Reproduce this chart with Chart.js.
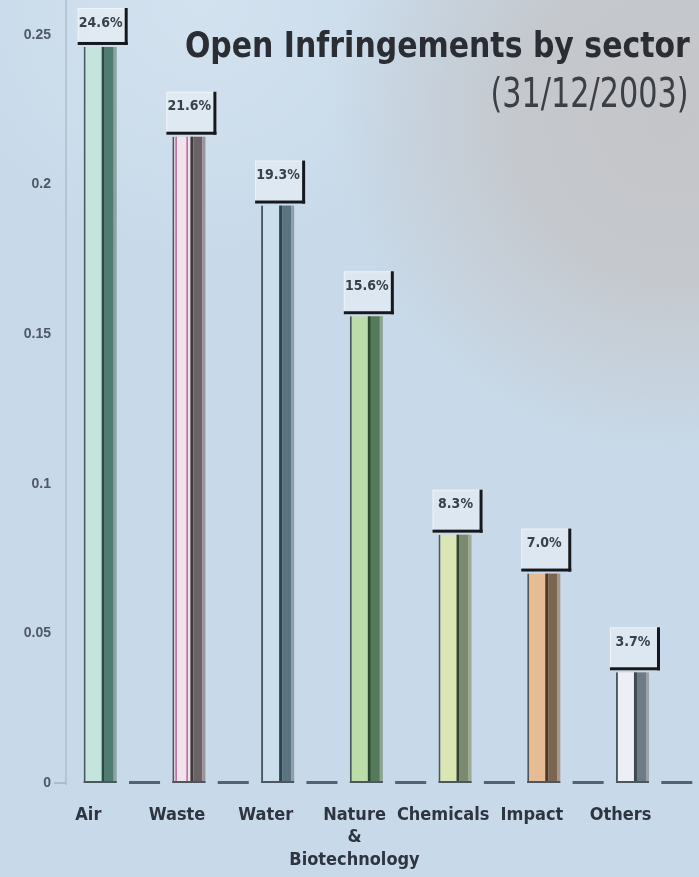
<!DOCTYPE html>
<html>
<head>
<meta charset="utf-8">
<script src="https://cdn.jsdelivr.net/npm/chart.js@4"></script>
<style>
  html, body { margin: 0; padding: 0; background: #c8daea; }
  #wrap { position: relative; width: 699px; height: 877px; overflow: hidden; }
  canvas { display: block; }
  .ttl { position: absolute; white-space: nowrap; font-family: "DejaVu Sans Condensed", "Liberation Sans Narrow", sans-serif; transform-origin: right center; }
  #title { right: 9px; top: 28px; font-size: 35px; font-weight: 700; line-height: 35px; color: #2a2e34; }
  #subtitle { right: 11px; top: 73px; font-size: 40px; font-weight: 400; line-height: 40px; color: #3b3f46; }
</style>
</head>
<body>
<div id="wrap">
  <canvas id="c" width="699" height="877"></canvas>
  <div class="ttl" id="title">Open Infringements by sector</div>
  <div class="ttl" id="subtitle">(31/12/2003)</div>
</div>
<script>
// ---- data ----
const categories = ['Air', 'Waste', 'Water', ['Nature', '&', 'Biotechnology'], 'Chemicals', 'Impact', 'Others'];
const shares = [0.246, 0.216, 0.193, 0.156, 0.083, 0.070, 0.037];
const spacers = [0, 0, 0, 0, 0, 0, 0];
const shareLabels = ['24.6%', '21.6%', '19.3%', '15.6%', '8.3%', '7.0%', '3.7%'];
const yTickValues = [0, 0.05, 0.1, 0.15, 0.2, 0.25];
const yTickLabels = ['0', '0.05', '0.1', '0.15', '0.2', '0.25'];

// ---- styles ----
const lightColors  = ['#c6e4de', '#efe4ec', '#cadeec', '#bcdcaa', '#dae6b4', '#e6bc94', '#eeeff6'];
const stripeColors = ['#2a4a42', '#3e3a3c', '#2e4450', '#2c4832', '#34442e', '#4a3a2c', '#3e4850'];
const darkColors   = ['#4f7c70', '#6a6264', '#5c7482', '#557a5a', '#7a8a70', '#7a6452', '#6e7a86'];
const edgeColors   = ['#8aa4a0', '#9a9298', '#8e9ea8', '#8ea492', '#a0a898', '#a69684', '#9aa2aa'];
const accentColors = [null, '#c2609a', null, null, null, null, null];

const NARROW = '"DejaVu Sans Condensed", "Liberation Sans Narrow", sans-serif';

function fitWidth(id, target) {
  const el = document.getElementById(id);
  el.style.transform = 'none';
  const w = el.getBoundingClientRect().width;
  if (w > 0) el.style.transform = 'scaleX(' + (target / w) + ')';
}
fitWidth('title', 505);
fitWidth('subtitle', 198);
if (document.fonts && document.fonts.ready) {
  document.fonts.ready.then(() => { fitWidth('title', 505); fitWidth('subtitle', 198); });
}

const bgPlugin = {
  id: 'bg',
  beforeDraw(chart) {
    const { ctx, width, height } = chart;
    ctx.save();
    ctx.fillStyle = '#c8daea';
    ctx.fillRect(0, 0, width, height);
    const w = ctx.createRadialGradient(200, 0, 0, 200, 0, 260);
    w.addColorStop(0, 'rgba(214,228,240,0.8)');
    w.addColorStop(1, 'rgba(214,228,240,0)');
    ctx.fillStyle = w;
    ctx.fillRect(0, 0, width, height);
    const g = ctx.createRadialGradient(670, 120, 0, 670, 120, 340);
    g.addColorStop(0, 'rgba(196,197,200,1)');
    g.addColorStop(0.45, 'rgba(196,197,200,0.85)');
    g.addColorStop(1, 'rgba(196,197,200,0)');
    ctx.fillStyle = g;
    ctx.fillRect(0, 0, width, height);
    // faint y axis line
    const ys = chart.scales.y;
    ctx.fillStyle = 'rgba(150,170,190,0.45)';
    ctx.fillRect(ys.right - 13, 0, 2, ys.bottom + 2);
    ctx.fillStyle = 'rgba(150,170,190,0.6)';
    ctx.fillRect(ys.right - 24, ys.bottom - 1, 12, 2);
    ctx.restore();
  }
};

const barPlugin = {
  id: 'bars',
  afterDatasetsDraw(chart) {
    const ctx = chart.ctx;
    ctx.save();
    const meta0 = chart.getDatasetMeta(0);
    meta0.data.forEach((el, i) => {
      const { x, y, base, width } = el.getProps(['x', 'y', 'base', 'width'], true);
      const L = x - width / 2, h = base - y, f = width / 33;
      ctx.fillStyle = stripeColors[i]; ctx.fillRect(L + 18 * f, y, 3 * f, h);
      ctx.fillStyle = darkColors[i];   ctx.fillRect(L + 21 * f, y, 9 * f, h);
      ctx.fillStyle = edgeColors[i];   ctx.fillRect(L + 30 * f, y, 3 * f, h);
      if (accentColors[i]) {
        ctx.fillStyle = accentColors[i];
        ctx.fillRect(L + 3 * f, y, 1.5 * f, h - 2);
        ctx.fillRect(L + 14 * f, y, 1.5 * f, h - 2);
      }
      ctx.fillStyle = '#4a5660';
      ctx.fillRect(L, base - 2, width, 2);
    });

    const meta1 = chart.getDatasetMeta(1);
    meta1.data.forEach(el => {
      const { x, base, width } = el.getProps(['x', 'base', 'width'], true);
      ctx.fillStyle = '#56636e';
      ctx.fillRect(x - width / 2 + 1, base - 2, width - 2, 3);
    });

    // value label boxes
    meta0.data.forEach((el, i) => {
      const { x, y, width } = el.getProps(['x', 'y', 'width'], true);
      const left = x - width / 2 - 6;
      const right = x + width / 2 + 11;
      const bottom = y - 2;
      const top = Math.max(bottom - 43, 8);
      ctx.fillStyle = 'rgba(236,242,248,0.55)';
      ctx.fillRect(left, top, right - left, bottom - top);
      ctx.strokeStyle = 'rgba(255,255,255,0.5)';
      ctx.lineWidth = 1;
      ctx.strokeRect(left + 0.5, top + 0.5, right - left - 1, bottom - top - 1);
      ctx.fillStyle = '#15181c';
      ctx.fillRect(right - 3, top, 3, bottom - top);
      ctx.fillRect(left, bottom - 3, right - left, 3);
      ctx.fillStyle = '#3a4048';
      ctx.font = '700 14px ' + NARROW;
      ctx.textAlign = 'center';
      ctx.textBaseline = 'middle';
      ctx.fillText(shareLabels[i], (left + right) / 2 - 2, top + 15);
    });
    ctx.restore();
  }
};

new Chart(document.getElementById('c'), {
  type: 'bar',
  data: {
    labels: categories,
    datasets: [
      {
        label: 'Share of open infringements',
        data: shares,
        backgroundColor: lightColors,
        borderColor: '#4a5660',
        borderWidth: { left: 2, right: 0, top: 0, bottom: 0 },
        borderSkipped: false,
        barPercentage: 0.745,
        categoryPercentage: 1
      },
      {
        label: 'spacer',
        data: spacers,
        backgroundColor: 'rgba(0,0,0,0)',
        borderWidth: 0,
        barPercentage: 0.745,
        categoryPercentage: 1
      }
    ]
  },
  options: {
    responsive: false,
    animation: false,
    devicePixelRatio: 1,
    layout: { padding: { top: 35, right: 0, left: 0, bottom: 0 } },
    plugins: { legend: { display: false }, tooltip: { enabled: false }, title: { display: false } },
    scales: {
      x: {
        grid: { display: false, drawTicks: false },
        border: { display: false },
        ticks: {
          autoSkip: false,
          maxRotation: 0,
          minRotation: 0,
          labelOffset: -34,
          padding: 21,
          color: '#2e3440',
          font: { family: NARROW, size: 18, weight: '700', lineHeight: 1.25 }
        },
        afterFit(scale) {
          scale.height = 94;
          scale.paddingLeft = 0;
          scale.paddingRight = 0;
        }
      },
      y: {
        min: 0,
        max: 0.25,
        grid: { display: false, drawTicks: false },
        border: { display: false },
        afterBuildTicks(scale) { scale.ticks = yTickValues.map(v => ({ value: v })); },
        ticks: {
          padding: 27,
          color: '#505866',
          font: { family: '"Liberation Sans", Arial, sans-serif', size: 14, weight: '700' },
          callback(value) {
            const idx = yTickValues.findIndex(v => Math.abs(v - value) < 1e-9);
            return idx >= 0 ? yTickLabels[idx] : '';
          }
        },
        afterFit(scale) {
          scale.width = 78;
          scale.paddingTop = 0;
          scale.paddingBottom = 0;
        }
      }
    }
  },
  plugins: [bgPlugin, barPlugin]
});
</script>
</body>
</html>
